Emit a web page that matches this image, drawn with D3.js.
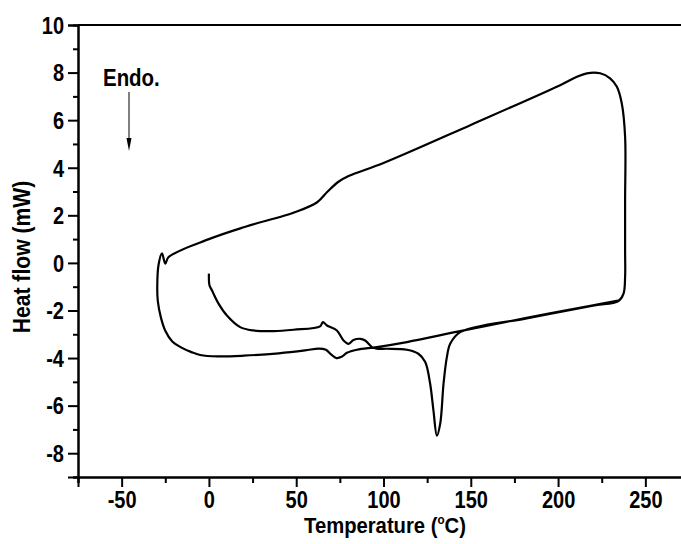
<!DOCTYPE html>
<html>
<head>
<meta charset="utf-8">
<script src="https://cdn.jsdelivr.net/npm/d3@7"></script>
<style>
  html, body { margin: 0; padding: 0; background: #fff; }
  svg { display: block; }
  text { font-family: "Liberation Sans", Arial, sans-serif; font-weight: bold; fill: #000; }
</style>
</head>
<body>
<script>
// DSC trace: first heating, cooling, second heating (temperature in °C, heat flow in mW)
const heating1T = [0, 0.3, 1.7, 5.5, 10.3, 17.9, 25.5, 37, 48.5, 63.7, 65.3, 67.6, 73.3, 77.1, 80, 82.8, 86.7, 89.5, 93.4, 96.2, 102, 113.4, 120, 123.9, 126.7, 128.6, 130.6, 132.5, 134.4, 136.3, 138.2, 143.9, 182, 220, 234.6];
const heating1Q = [-0.45, -0.94, -1.15, -1.71, -2.21, -2.70, -2.84, -2.87, -2.81, -2.67, -2.49, -2.63, -2.84, -3.26, -3.40, -3.24, -3.19, -3.26, -3.54, -3.61, -3.61, -3.65, -3.82, -4.17, -5.07, -6.20, -7.26, -6.75, -5.07, -3.96, -3.40, -2.91, -2.33, -1.80, -1.60];

const coolingT = [237.5, 238.4, 238.4, 238.4, 238.4, 236.5, 233.7, 229.8, 224.1, 216.5, 210.8, 201.2, 150, 100, 80, 74, 68, 62, 50, 20, 0, -23.1, -25, -26.9, -28.9, -29.6];
const coolingQ = [-1.29, -0.59, 0.53, 2.63, 5.30, 6.70, 7.40, 7.76, 7.97, 7.97, 7.82, 7.47, 5.8, 4.2, 3.65, 3.4, 3.0, 2.55, 2.15, 1.5, 1.0, 0.25, -0.03, 0.40, -0.10, -1.0];

const heating2T = [-29.3, -27.5, -25, -21, -16, -10, -5, 5, 20, 40, 55, 63, 67, 70, 73, 76, 79, 84.8, 96.2, 113.4, 143.9, 182, 220, 234.4];
const heating2Q = [-1.6, -2.3, -2.85, -3.3, -3.55, -3.75, -3.87, -3.93, -3.9, -3.8, -3.68, -3.6, -3.65, -3.85, -4.0, -3.95, -3.78, -3.65, -3.54, -3.33, -2.87, -2.31, -1.78, -1.58];

// Axis ticks
const xMajor = [-50, 0, 50, 100, 150, 200, 250];
const xMinor = [-75, -25, 25, 75, 125, 175, 225, 275];
const yMajor = [-8, -6, -4, -2, 0, 2, 4, 6, 8, 10];
const yMinor = [-9, -7, -5, -3, -1, 1, 3, 5, 7, 9];

const W = 681, H = 544;
const svg = d3.select("body").append("svg").attr("width", W).attr("height", H);
svg.append("rect").attr("width", W).attr("height", H).attr("fill", "#fff");

const x = d3.scaleLinear().domain([-75, 275]).range([78, 689]);
const y = d3.scaleLinear().domain([-9, 10]).range([477, 25]);

const seg = (T, Q) => T.map((t, i) => [t, Q[i]]);
const trace = [].concat(seg(heating1T, heating1Q), seg(coolingT, coolingQ), seg(heating2T, heating2Q));

const line = d3.line()
  .x(d => x(d[0]))
  .y(d => y(d[1]))
  .curve(d3.curveCatmullRom.alpha(0.5));

svg.append("path")
  .datum(trace)
  .attr("d", line)
  .attr("fill", "none")
  .attr("stroke", "#000")
  .attr("stroke-width", 2.2)
  .attr("stroke-linejoin", "round");

// Axes (plain hyphen for negative labels)
const tickFont = 23, squeeze = 0.87;
const fmt = d => String(d);

const gx = svg.append("g").attr("transform", `translate(0,${y(-9)})`);
gx.call(d3.axisBottom(x).tickValues(xMajor).tickSize(10).tickFormat(fmt));
gx.append("g").call(d3.axisBottom(x).tickValues(xMinor).tickSize(6).tickFormat(""));

const gy = svg.append("g").attr("transform", `translate(${x(-75)},0)`);
gy.call(d3.axisLeft(y).tickValues(yMajor).tickSize(10).tickFormat(fmt));
gy.append("g").call(d3.axisLeft(y).tickValues(yMinor).tickSize(5).tickFormat(""));

svg.selectAll(".domain").attr("stroke", "#000").attr("stroke-width", 2);
svg.selectAll(".tick line").attr("stroke", "#000").attr("stroke-width", 2);

gx.selectAll(".tick text")
  .attr("font-size", tickFont)
  .attr("y", 31).attr("dy", null)
  .attr("transform", `scale(${squeeze},1)`);
gy.selectAll(".tick text")
  .attr("font-size", tickFont)
  .attr("x", -14 / squeeze).attr("dy", "0.36em")
  .attr("transform", `scale(${squeeze},1)`);
svg.selectAll(".tick text").attr("font-family", null).attr("fill", "#000");

// Top frame line
svg.append("line")
  .attr("x1", x(-75)).attr("x2", W)
  .attr("y1", y(10)).attr("y2", y(10))
  .attr("stroke", "#000").attr("stroke-width", 2);

// Axis titles
const xt = svg.append("text")
  .attr("transform", `translate(${(302 + 468) / 2},533) scale(0.9,1)`)
  .attr("text-anchor", "middle")
  .attr("font-size", 22.5);
xt.append("tspan").text("Temperature (");
xt.append("tspan").attr("font-size", 13).attr("dy", -9).text("o");
xt.append("tspan").attr("dy", 9).text("C)");

svg.append("text")
  .attr("transform", `translate(30,257) rotate(-90) scale(0.9,1)`)
  .attr("text-anchor", "middle")
  .attr("font-size", 23.5)
  .text("Heat flow (mW)");

// Endothermic direction marker
svg.append("text")
  .attr("transform", "translate(103,86) scale(0.87,1)")
  .attr("font-size", 23.5)
  .text("Endo.");

const ax = 129;
svg.append("line")
  .attr("x1", ax).attr("x2", ax).attr("y1", 92).attr("y2", 142)
  .attr("stroke", "#000").attr("stroke-width", 1);
svg.append("path")
  .attr("d", `M${ax - 2.5},138 L${ax + 2.5},138 L${ax},151 Z`)
  .attr("fill", "#000");
</script>
</body>
</html>
